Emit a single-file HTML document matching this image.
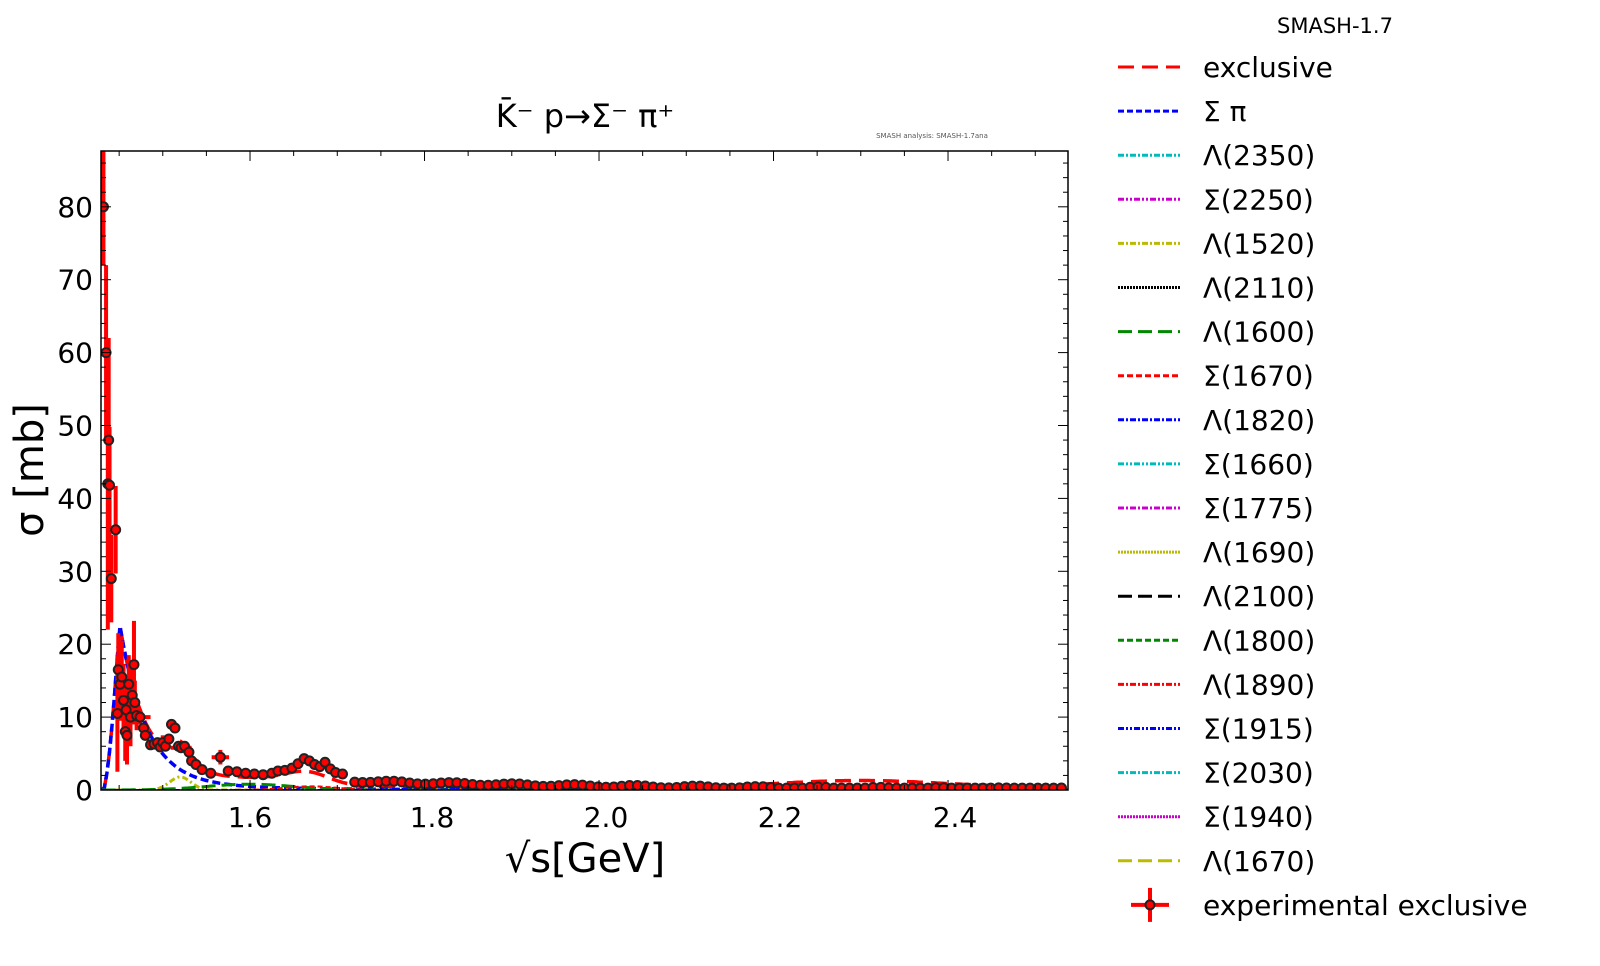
<!DOCTYPE html>
<html><head><meta charset="utf-8"><style>
body{margin:0;background:#fff;width:1600px;height:961px;overflow:hidden}
svg text{font-family:"DejaVu Sans","Liberation Sans",sans-serif}
</style></head><body>
<svg id="s" width="1600" height="961" xmlns="http://www.w3.org/2000/svg">
<defs><clipPath id="c"><rect x="101" y="151" width="967" height="639"/></clipPath></defs>
<g id="curves" clip-path="url(#c)"></g>
<g id="pts" clip-path="url(#c)"></g>
<rect x="101" y="151" width="967" height="639" fill="none" stroke="#000" stroke-width="1.5"/>
<g id="ticks" stroke="#000"></g>
<g font-size="28" text-anchor="middle" id="xl">
<text x="250" y="827">1.6</text><text x="432" y="827">1.8</text><text x="606" y="827">2.0</text><text x="780" y="827">2.2</text><text x="955" y="827">2.4</text></g>
<g font-size="28" text-anchor="end" id="yl"></g>
<text x="585" y="872" font-size="40" text-anchor="middle">√s[GeV]</text>
<text transform="translate(43,470) rotate(-90)" font-size="40" text-anchor="middle">σ [mb]</text>
<text x="585" y="127" font-size="32" text-anchor="middle">K̄⁻ p→Σ⁻ π⁺</text>
<text x="932" y="138" font-size="7" fill="#555" text-anchor="middle">SMASH analysis: SMASH-1.7ana</text>
<text x="1335" y="33" font-size="21" text-anchor="middle">SMASH-1.7</text>
<g id="leg"></g>
</svg>
<script>
const NS="http://www.w3.org/2000/svg";
const X=x=>101+(x-1.4292)*872.5, Y=y=>790-y*7.29;
function el(p,t,a){const e=document.createElementNS(NS,t);for(const k in a)e.setAttribute(k,a[k]);p.appendChild(e);return e}
const tk=document.getElementById('ticks');
for(let i=0;i<=21;i++){const x=1.45+i*0.05;const px=X(x);const maj=(i%4==3);const LL=maj?10:5;
el(tk,'line',{x1:px,x2:px,y1:790,y2:790-LL});el(tk,'line',{x1:px,x2:px,y1:151,y2:151+LL});}
const yl=document.getElementById('yl');
for(let y=0;y<=86;y+=2){const py=Y(y);const LL=y%10==0?10:5;el(tk,'line',{x1:101,x2:101+LL,y1:py,y2:py});el(tk,'line',{x1:1068,x2:1068-LL,y1:py,y2:py});
if(y%10==0){const t=el(yl,'text',{x:93,y:py+10});t.textContent=y;}}
function curve(f,col,dash,w){let d='';for(let x=1.43;x<=2.54;x+=0.003){d+=(d?'L':'M')+X(x).toFixed(1)+','+Y(f(x)).toFixed(1)}
el(document.getElementById('curves'),'path',{d:d,fill:'none',stroke:col,'stroke-width':w||3,'stroke-dasharray':dash})}
const g=(x,m,s,a)=>a*Math.exp(-(((x-m)/s)**2)/2);
const sp=x=>{if(x<1.432)return 0;const t=x-1.432;return 22*Math.pow(Math.min(1,t/0.018),1.5)*Math.exp(-Math.max(0,t-0.018)/0.03)+(x>1.45?1.2*Math.exp(-(x-1.45)/0.12):0)};
const l1520=x=>g(x,1.52,0.012,1.8), l1600=x=>g(x,1.6,0.05,0.8);
curve(x=>sp(x)+l1520(x)+l1600(x)+g(x,1.52,0.02,1.5)+g(x,1.665,0.025,1.6)+0.4*(x>1.5)+g(x,2.3,0.09,0.9)-0.1*(x>2.45),'#f00','16,8',3.5);
curve(sp,'#00f','8,4',3.5);
curve(l1520,'#bb0','6,3,2,3',3);
curve(l1600,'#080','14,6',3);
curve(x=>g(x,2.35,0.08,0.6),'#0bb','6,2,2,2',2);
curve(x=>g(x,2.25,0.1,0.4),'#c0c','6,2,2,2',2);
curve(x=>g(x,1.67,0.03,0.5),'#f00','5,3',2);
curve(x=>g(x,1.82,0.04,0.3),'#00f','6,2,2,2',2);
const D=[[1.432,80,8],[1.435,60,12],[1.437,42,20],[1.438,48,14],[1.439,41.8,8],[1.441,29,6],[1.446,35.7,6],[1.448,10.5,8],[1.449,16.5,5],[1.451,14.5,5],[1.453,15.5,5],[1.455,12.3,5],[1.457,8,4],[1.458,11,4],[1.459,7.5,4],[1.461,14.5,4],[1.463,10,4],[1.465,13,4],[1.467,17.2,6],[1.468,12,3],[1.470,10.2,2],[1.474,10,1,0.012],[1.478,8.5,0.5],[1.480,7.5,0.5],[1.486,6.2],[1.490,6.3],[1.494,6.5],[1.497,5.9],[1.500,6.5,1],[1.503,6.0],[1.507,7.0],[1.510,9.0],[1.514,8.5],[1.518,6],[1.521,5.8,0.5,0.012],[1.525,6],[1.530,5.2],[1.533,4],[1.538,3.5],[1.545,2.8],[1.555,2.3],[1.566,4.5,1,0.01],[1.575,2.6],[1.585,2.5],[1.595,2.3],[1.605,2.2],[1.615,2.1],[1.625,2.3],[1.632,2.6],[1.64,2.7],[1.648,3.0],[1.655,3.6],[1.662,4.3],[1.668,4.0],[1.674,3.5],[1.68,3.2],[1.686,3.8],[1.692,2.9],[1.698,2.4],[1.706,2.2]];
for(let x=1.72;x<2.53;x+=0.009){D.push([x,Math.max(0.25,1.2*Math.exp(-(x-1.72)/0.35)+(Math.sin(x*90)*0.15))])}
const P=document.getElementById('pts');
for(const p of D){const x=p[0],y=p[1],e=p[2],xe=p[3];if(e)el(P,'line',{x1:X(x),x2:X(x),y1:Y(y-e),y2:Y(y+e),stroke:'#f00','stroke-width':4});
if(xe)el(P,'line',{x1:X(x-xe),x2:X(x+xe),y1:Y(y),y2:Y(y),stroke:'#f00','stroke-width':4});}
for(const p of D)el(P,'circle',{cx:X(p[0]),cy:Y(p[1]),r:4.5,fill:'#f00',stroke:'#222','stroke-width':2});
const LG=document.getElementById('leg');
const items=[['exclusive','#f00','16,8'],['Σ π','#00f','6,3'],['Λ(2350)','#0bb','6,2,2,2'],['Σ(2250)','#c0c','6,2,2,2,2,2'],['Λ(1520)','#bb0','6,2,2,2'],['Λ(2110)','#000','2,1'],['Λ(1600)','#080','14,6'],['Σ(1670)','#f00','6,3'],['Λ(1820)','#00f','6,2,2,2'],['Σ(1660)','#0bb','6,2,2,2,2,2'],['Σ(1775)','#c0c','6,2,2,2'],['Λ(1690)','#bb0','2,1'],['Λ(2100)','#000','14,6'],['Λ(1800)','#080','6,3'],['Λ(1890)','#f00','6,2,2,2'],['Σ(1915)','#00f','6,2,2,2,2,2'],['Σ(2030)','#0bb','6,2,2,2'],['Σ(1940)','#c0c','2,1'],['Λ(1670)','#bb0','14,6']];
items.forEach(function(it,i){const y=67+i*44.1;el(LG,'line',{x1:1118,x2:1180,y1:y,y2:y,stroke:it[1],'stroke-width':3,'stroke-dasharray':it[2]});
const tt=el(LG,'text',{x:1203,y:y+10,'font-size':28});tt.textContent=it[0];});
const yy=67+19*44.1;
el(LG,'line',{x1:1131,x2:1169,y1:yy,y2:yy,stroke:'#f00','stroke-width':4});el(LG,'line',{x1:1150,x2:1150,y1:yy-17,y2:yy+17,stroke:'#f00','stroke-width':4});
el(LG,'circle',{cx:1150,cy:yy,r:4.5,fill:'#f00',stroke:'#222','stroke-width':2});
const te=el(LG,'text',{x:1203,y:yy+10,'font-size':28});te.textContent='experimental exclusive';
</script>
</body></html>
